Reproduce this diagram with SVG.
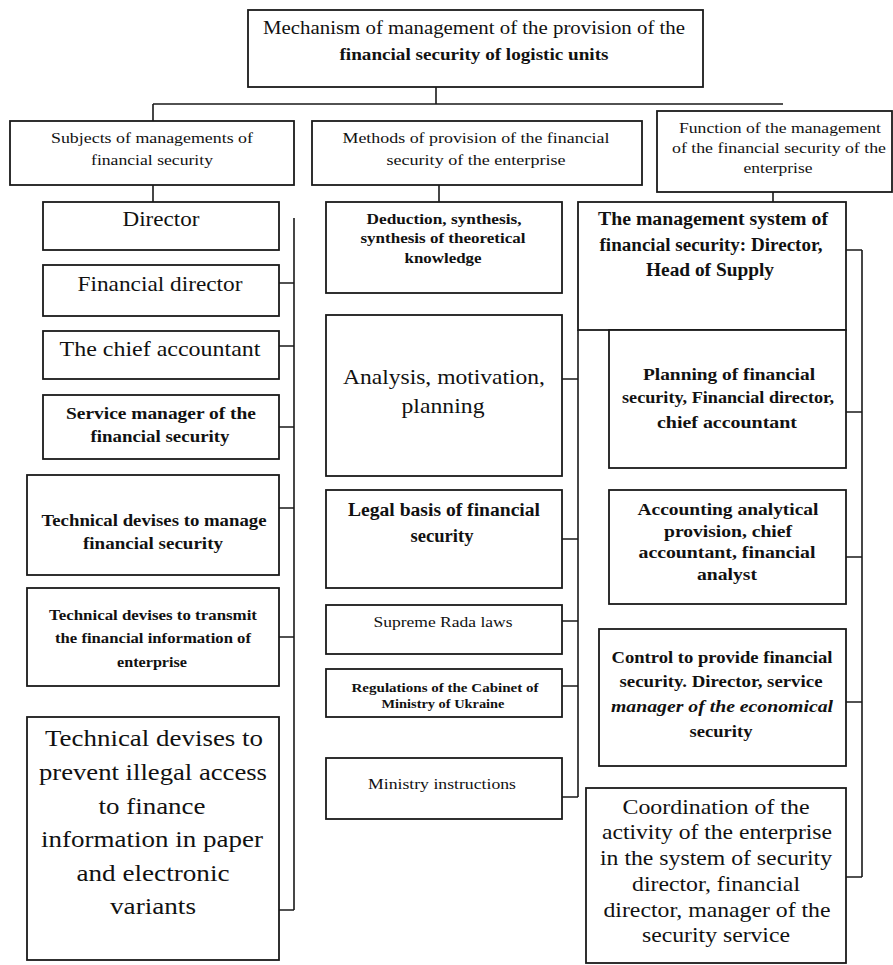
<svg xmlns="http://www.w3.org/2000/svg" width="893" height="965" viewBox="0 0 893 965">
<style>
.box{fill:#fff;stroke:#1a1a1a;stroke-width:1.8}
.ln{fill:none;stroke:#1a1a1a;stroke-width:1.6}
text{font-family:"Liberation Serif","Times New Roman",serif;fill:#111;text-anchor:middle}
.b{font-weight:bold}
.i{font-style:italic}
</style>
<rect width="893" height="965" fill="#fff"/>
<g id="connectors">
<path class="ln" d="M436 87V104M153 104H783M153 104V121M153 185V202M439 185V202M773 192V202"/>
<path class="ln" d="M294 218V910M279 283H294M279 346H294M279 427H294M279 508H294M279 637H294M279 910H294"/>
<path class="ln" d="M578 330V797M562 379H578M562 539H578M562 621H578M562 686H578M562 797H578"/>
<path class="ln" d="M862 250V877M846 250H862M846 412H862M846 557H862M846 702H862M846 877H862"/>
</g>
<g id="root"><rect class="box" x="248" y="10" width="455" height="77"/>
<text x="474" y="34" font-size="18" textLength="422" lengthAdjust="spacingAndGlyphs">Mechanism of management of the provision of the</text>
<text class="b" x="474" y="60" font-size="17" textLength="269" lengthAdjust="spacingAndGlyphs">financial security of logistic units</text></g>
<g id="subjects"><rect class="box" x="10" y="121" width="284" height="64"/>
<text x="152" y="143" font-size="15" textLength="202" lengthAdjust="spacingAndGlyphs">Subjects of managements of</text>
<text x="152" y="165" font-size="15" textLength="122" lengthAdjust="spacingAndGlyphs">financial security</text></g>
<g id="methods"><rect class="box" x="312" y="121" width="330" height="64"/>
<text x="476" y="143" font-size="15" textLength="267" lengthAdjust="spacingAndGlyphs">Methods of provision of the financial</text>
<text x="476" y="165" font-size="15" textLength="179" lengthAdjust="spacingAndGlyphs">security of the enterprise</text></g>
<g id="function"><rect class="box" x="657" y="111" width="235" height="81"/>
<text x="780" y="133" font-size="15.5" textLength="202" lengthAdjust="spacingAndGlyphs">Function of the management</text>
<text x="779" y="153" font-size="15.5" textLength="214" lengthAdjust="spacingAndGlyphs">of the financial security of the</text>
<text x="778" y="173" font-size="15.5" textLength="69" lengthAdjust="spacingAndGlyphs">enterprise</text></g>
<g id="director"><rect class="box" x="43" y="202" width="236" height="48"/>
<text x="161" y="226" font-size="20" textLength="77" lengthAdjust="spacingAndGlyphs">Director</text></g>
<g id="financial-director"><rect class="box" x="43" y="265" width="236" height="51"/>
<text x="160" y="291" font-size="21" textLength="165" lengthAdjust="spacingAndGlyphs">Financial director</text></g>
<g id="chief-accountant"><rect class="box" x="43" y="331" width="236" height="48"/>
<text x="160" y="356" font-size="21" textLength="201" lengthAdjust="spacingAndGlyphs">The chief accountant</text></g>
<g id="service-manager"><rect class="box" x="43" y="395" width="236" height="64"/>
<text class="b" x="161" y="419" font-size="17" textLength="190" lengthAdjust="spacingAndGlyphs">Service manager of the</text>
<text class="b" x="160" y="442" font-size="17" textLength="139" lengthAdjust="spacingAndGlyphs">financial security</text></g>
<g id="tech-manage"><rect class="box" x="27" y="475" width="252" height="100"/>
<text class="b" x="154" y="526" font-size="17" textLength="225" lengthAdjust="spacingAndGlyphs">Technical devises to manage</text>
<text class="b" x="153" y="549" font-size="17" textLength="140" lengthAdjust="spacingAndGlyphs">financial security</text></g>
<g id="tech-transmit"><rect class="box" x="27" y="588" width="252" height="98"/>
<text class="b" x="153" y="620" font-size="15.5" textLength="208" lengthAdjust="spacingAndGlyphs">Technical devises to transmit</text>
<text class="b" x="153" y="643" font-size="15.5" textLength="196" lengthAdjust="spacingAndGlyphs">the financial information of</text>
<text class="b" x="152" y="667" font-size="15.5" textLength="70" lengthAdjust="spacingAndGlyphs">enterprise</text></g>
<g id="tech-prevent"><rect class="box" x="27" y="717" width="252" height="243"/>
<text x="154" y="746" font-size="24" textLength="218" lengthAdjust="spacingAndGlyphs">Technical devises to</text>
<text x="153" y="780" font-size="24" textLength="228" lengthAdjust="spacingAndGlyphs">prevent illegal access</text>
<text x="152" y="814" font-size="24" textLength="107" lengthAdjust="spacingAndGlyphs">to finance</text>
<text x="152" y="847" font-size="24" textLength="222" lengthAdjust="spacingAndGlyphs">information in paper</text>
<text x="153" y="881" font-size="24" textLength="153" lengthAdjust="spacingAndGlyphs">and electronic</text>
<text x="153" y="914" font-size="24" textLength="86" lengthAdjust="spacingAndGlyphs">variants</text></g>
<g id="deduction"><rect class="box" x="326" y="202" width="236" height="91"/>
<text class="b" x="444" y="224" font-size="14" textLength="155" lengthAdjust="spacingAndGlyphs">Deduction, synthesis,</text>
<text class="b" x="443" y="243" font-size="14" textLength="165" lengthAdjust="spacingAndGlyphs">synthesis of theoretical</text>
<text class="b" x="443" y="263" font-size="14" textLength="77" lengthAdjust="spacingAndGlyphs">knowledge</text></g>
<g id="analysis"><rect class="box" x="326" y="315" width="236" height="161"/>
<text x="444" y="384" font-size="21" textLength="202" lengthAdjust="spacingAndGlyphs">Analysis, motivation,</text>
<text x="443" y="413" font-size="21" textLength="83" lengthAdjust="spacingAndGlyphs">planning</text></g>
<g id="legal"><rect class="box" x="326" y="490" width="236" height="98"/>
<text class="b" x="444" y="516" font-size="18" textLength="192" lengthAdjust="spacingAndGlyphs">Legal basis of financial</text>
<text class="b" x="442" y="542" font-size="18" textLength="63" lengthAdjust="spacingAndGlyphs">security</text></g>
<g id="supreme"><rect class="box" x="326" y="605" width="236" height="49"/>
<text x="443" y="627" font-size="15" textLength="139" lengthAdjust="spacingAndGlyphs">Supreme Rada laws</text></g>
<g id="regulations"><rect class="box" x="326" y="669" width="236" height="48"/>
<text class="b" x="445" y="692" font-size="13" textLength="187" lengthAdjust="spacingAndGlyphs">Regulations of the Cabinet of</text>
<text class="b" x="443" y="708" font-size="13" textLength="123" lengthAdjust="spacingAndGlyphs">Ministry of Ukraine</text></g>
<g id="ministry"><rect class="box" x="326" y="758" width="236" height="61"/>
<text x="442" y="789" font-size="15" textLength="148" lengthAdjust="spacingAndGlyphs">Ministry instructions</text></g>
<g id="management-system"><rect class="box" x="578" y="202" width="268" height="128"/>
<text class="b" x="713" y="225" font-size="18" textLength="230" lengthAdjust="spacingAndGlyphs">The management system of</text>
<text class="b" x="711" y="251" font-size="18" textLength="223" lengthAdjust="spacingAndGlyphs">financial security: Director,</text>
<text class="b" x="710" y="276" font-size="18" textLength="128" lengthAdjust="spacingAndGlyphs">Head of Supply</text></g>
<g id="planning"><rect class="box" x="609" y="330" width="237" height="138"/>
<text class="b" x="729" y="380" font-size="17" textLength="172" lengthAdjust="spacingAndGlyphs">Planning of financial</text>
<text class="b" x="728" y="403" font-size="17" textLength="212" lengthAdjust="spacingAndGlyphs">security, Financial director,</text>
<text class="b" x="727" y="428" font-size="17" textLength="140" lengthAdjust="spacingAndGlyphs">chief accountant</text></g>
<g id="accounting"><rect class="box" x="609" y="490" width="237" height="114"/>
<text class="b" x="728" y="515" font-size="17" textLength="181" lengthAdjust="spacingAndGlyphs">Accounting analytical</text>
<text class="b" x="728" y="537" font-size="17" textLength="128" lengthAdjust="spacingAndGlyphs">provision, chief</text>
<text class="b" x="727" y="558" font-size="17" textLength="177" lengthAdjust="spacingAndGlyphs">accountant, financial</text>
<text class="b" x="727" y="580" font-size="17" textLength="60" lengthAdjust="spacingAndGlyphs">analyst</text></g>
<g id="control"><rect class="box" x="599" y="629" width="247" height="137"/>
<text class="b" x="722" y="663" font-size="17" textLength="221" lengthAdjust="spacingAndGlyphs">Control to provide financial</text>
<text class="b" x="721" y="687" font-size="17" textLength="203" lengthAdjust="spacingAndGlyphs">security. Director, service</text>
<text class="b i" x="722" y="712" font-size="17" textLength="222" lengthAdjust="spacingAndGlyphs">manager of the economical</text>
<text class="b" x="721" y="737" font-size="17" textLength="63" lengthAdjust="spacingAndGlyphs">security</text></g>
<g id="coordination"><rect class="box" x="586" y="788" width="260" height="175"/>
<text x="716" y="814" font-size="21" textLength="187" lengthAdjust="spacingAndGlyphs">Coordination of the</text>
<text x="717" y="839" font-size="21" textLength="230" lengthAdjust="spacingAndGlyphs">activity of the enterprise</text>
<text x="716" y="865" font-size="21" textLength="232" lengthAdjust="spacingAndGlyphs">in the system of security</text>
<text x="716" y="891" font-size="21" textLength="168" lengthAdjust="spacingAndGlyphs">director, financial</text>
<text x="717" y="917" font-size="21" textLength="227" lengthAdjust="spacingAndGlyphs">director, manager of the</text>
<text x="716" y="942" font-size="21" textLength="148" lengthAdjust="spacingAndGlyphs">security service</text></g>
</svg>
